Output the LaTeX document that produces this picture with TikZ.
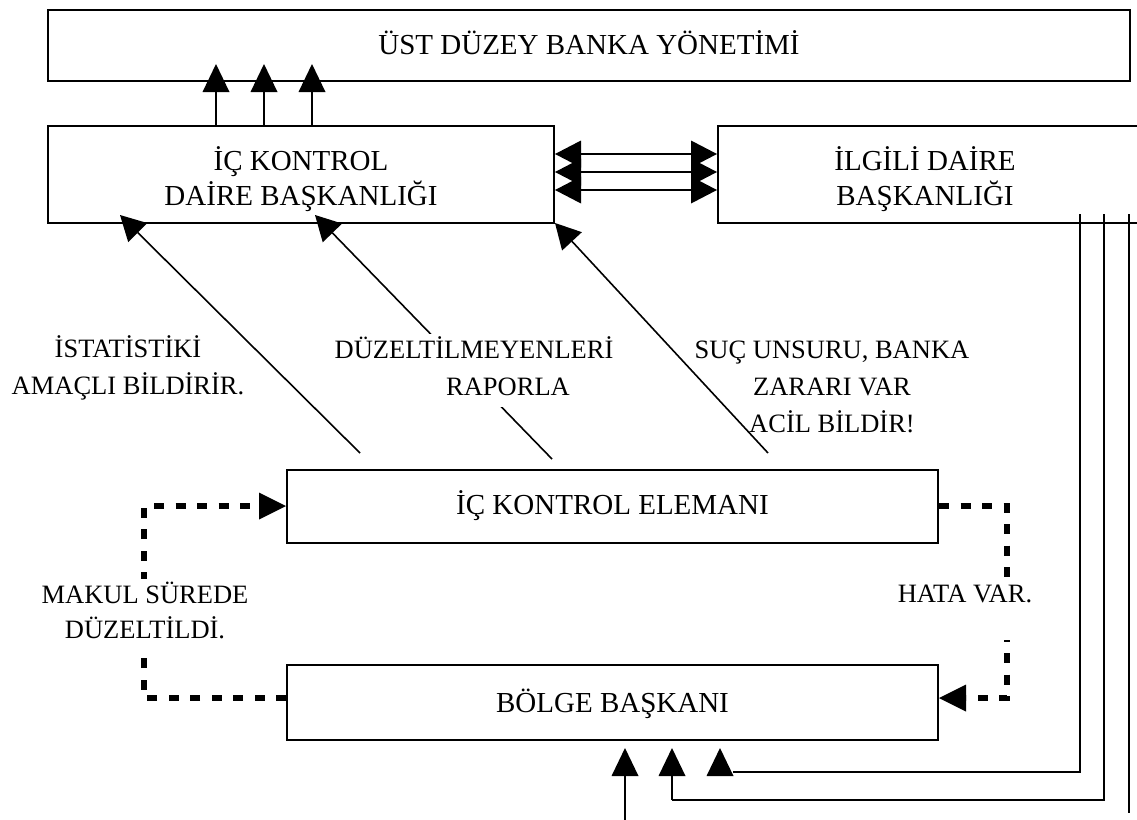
\documentclass[tikz,border=0pt]{standalone}
\usepackage{fontspec}
\setmainfont{Liberation Serif}
\usetikzlibrary{arrows.meta}
\tikzset{
  box/.style={draw, line width=2pt, rectangle, inner sep=0pt},
  maintext/.style={font=\fontsize{29pt}{35pt}\selectfont, anchor=base, inner sep=0pt},
  lbl/.style={font=\fontsize{26.5pt}{36pt}\selectfont, anchor=base, inner sep=4pt, text height=20pt, text depth=8pt},
  uparrow/.style={line width=2pt, -{Triangle[length=28pt,width=27pt,line width=0pt]}},
  dblarrow/.style={line width=2pt, {Triangle[length=26pt,width=27pt,line width=0pt]}-{Triangle[length=26pt,width=27pt,line width=0pt]}},
  diagarrow/.style={line width=1.6pt, -{Triangle[length=25pt,width=27pt,line width=0pt]}},
  thinline/.style={line width=1.7pt},
  dashline/.style={line width=5.5pt, dash pattern=on 10pt off 11.5pt, -{Triangle[length=27pt,width=27pt,line width=0pt]}},
}
\begin{document}
\begin{tikzpicture}[x=1pt,y=-1pt]
\useasboundingbox (0,0) rectangle (1137,819);
\clip (0,0) rectangle (1137,819);

% boxes
\node[box, minimum width=1082pt, minimum height=71pt] (top) at (589,45.5) {};
\node[box, minimum width=506pt, minimum height=97pt] (icdb) at (301,174.5) {};
\node[box, minimum width=482pt, minimum height=97pt] (ilgili) at (959,174.5) {};
\node[box, minimum width=651pt, minimum height=73pt] (ice) at (612.5,506) {};
\node[box, minimum width=651pt, minimum height=75pt] (bolge) at (612.5,702.5) {};

% box texts
\node[maintext] (ttop) at (589,54) {ÜST DÜZEY BANKA YÖNETİMİ};
\node[maintext] (ticdb1) at (301,170) {İÇ KONTROL};
\node[maintext] (ticdb2) at (301,205) {DAİRE BAŞKANLIĞI};
\node[maintext] (tilg1) at (925,170) {İLGİLİ DAİRE};
\node[maintext] (tilg2) at (925,205) {BAŞKANLIĞI};
\node[maintext] (tice) at (612.5,514) {İÇ KONTROL ELEMANI};
\node[maintext] (tbolge) at (612.5,712) {BÖLGE BAŞKANI};

% coordinates
\coordinate (u1) at (216,64);
\coordinate (u2) at (264,64);
\coordinate (u3) at (312,64);
\coordinate (h1) at (636,154);
\coordinate (h2) at (636,172);
\coordinate (h3) at (636,190);
\coordinate (d1s) at (360,453);
\coordinate (d1e) at (120,215);
\coordinate (d2s) at (552,459);
\coordinate (d2e) at (315,215);
\coordinate (d3s) at (768,453);
\coordinate (d3e) at (555,223);
\coordinate (L1) at (144,698);
\coordinate (R1) at (1007,698);
\coordinate (v1) at (1080,214);
\coordinate (v2) at (1104,214);
\coordinate (v3) at (1129,214);
\coordinate (v3e) at (1129,813);
\coordinate (hA) at (733,772);
\coordinate (b3b) at (720,776);
\coordinate (b3t) at (720,748);
\coordinate (b2b) at (672,800);
\coordinate (b2t) at (672,748);
\coordinate (b1b) at (625,822);
\coordinate (b1t) at (625,748);

% arrows up to top box
\draw[uparrow] (icdb.north -| u1) -- (u1);
\draw[uparrow] (icdb.north -| u2) -- (u2);
\draw[uparrow] (icdb.north -| u3) -- (u3);

% double arrows between departments
\draw[dblarrow] (icdb.east |- h1) -- (ilgili.west |- h1);
\draw[dblarrow] (icdb.east |- h2) -- (ilgili.west |- h2);
\draw[dblarrow] (icdb.east |- h3) -- (ilgili.west |- h3);

% diagonal arrows
\draw[diagarrow] (d1s) -- (d1e);
\draw[diagarrow] (d2s) -- (d2e);
\draw[diagarrow] (d3s) -- (d3e);

% dashed loops
\draw[dashline] (bolge.west |- L1) -- (L1) |- (ice.west);
\draw[dashline] (ice.east) -| (R1) -- (bolge.east |- R1);

% lines from ilgili daire to bolge
\draw[thinline] (v1) |- (hA);
\draw[uparrow] (b3b) -- (b3t);
\draw[thinline] (v2) |- (b2b);
\draw[uparrow] (b2b) -- (b2t);
\draw[thinline] (v3) -- (v3e);
\draw[uparrow] (b1b) -- (b1t);

% labels
\node[lbl] (l1a) at (128,357) {İSTATİSTİKİ};
\node[lbl] (l1b) at (128,394) {AMAÇLI BİLDİRİR.};
\node[lbl, fill=white, text depth=12pt] (l2a) at (474,358) {DÜZELTİLMEYENLERİ};
\node[lbl, fill=white] (l2b) at (508,395) {RAPORLA};
\node[lbl] (l3a) at (832,358) {SUÇ UNSURU, BANKA};
\node[lbl] (l3b) at (832,395) {ZARARI VAR};
\node[lbl] (l3c) at (832,432) {ACİL BİLDİR!};
\node[lbl, fill=white] (l4a) at (145,603) {MAKUL SÜREDE};
\node[lbl, fill=white] (l4b) at (145,638) {DÜZELTİLDİ.};
\node[lbl, fill=white, text depth=34pt] (l5) at (965,602) {HATA VAR.};
\end{tikzpicture}
\end{document}
